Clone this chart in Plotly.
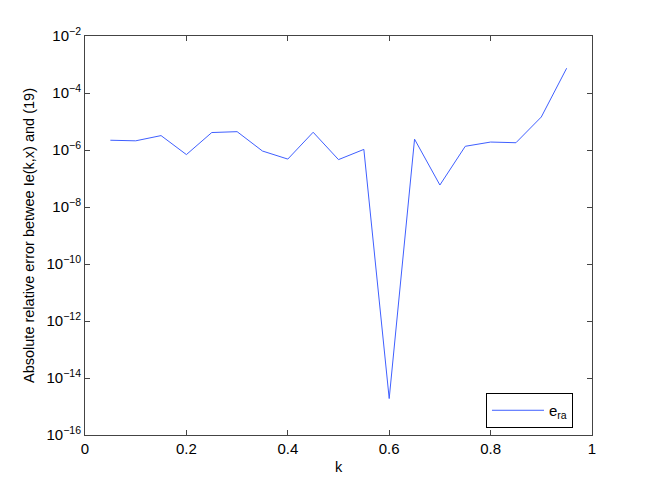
import plotly.graph_objects as go

k = [0.05, 0.10, 0.15, 0.20, 0.25, 0.30, 0.35, 0.40, 0.45, 0.50,
     0.55, 0.60, 0.65, 0.70, 0.75, 0.80, 0.85, 0.90, 0.95]
err = [2.2e-6, 2.1e-6, 3.2e-6, 6.9e-7, 4.1e-6, 4.4e-6, 9.2e-7, 4.8e-7, 4.2e-6, 4.6e-7,
       1.05e-6, 1.9e-15, 2.4e-6, 5.9e-8, 1.35e-6, 1.9e-6, 1.8e-6, 1.44e-5, 7.4e-4]

x_ticks = [0, 0.2, 0.4, 0.6, 0.8, 1]
x_ticktext = ["0", "0.2", "0.4", "0.6", "0.8", "1"]
y_ticks = [1e-16, 1e-14, 1e-12, 1e-10, 1e-8, 1e-6, 1e-4, 1e-2]
y_ticktext = ["10<sup>−16</sup>", "10<sup>−14</sup>", "10<sup>−12</sup>", "10<sup>−10</sup>",
              "10<sup>−8</sup>", "10<sup>−6</sup>", "10<sup>−4</sup>", "10<sup>−2</sup>"]

fig = go.Figure()
fig.add_trace(go.Scatter(x=k, y=err, mode="lines", name="e<sub>ra</sub>",
                         line=dict(color="#3f5fff", width=1)))

axis_common = dict(showline=True, linecolor="#444444", linewidth=1, mirror="allticks",
                   ticks="inside", ticklen=5, tickcolor="#444444", showgrid=False,
                   zeroline=False, automargin=False,
                   tickfont=dict(size=15, color="black"))

fig.update_xaxes(range=[0, 1], tickvals=x_ticks, ticktext=x_ticktext,
                 title=dict(text="k", font=dict(size=14.5, color="black"), standoff=5),
                 **axis_common)
fig.update_yaxes(type="log", range=[-16, -2], tickvals=y_ticks, ticktext=y_ticktext,
                 title=dict(text="Absolute relative error betwee Ie(k,x) and (19)",
                            font=dict(size=14.5, color="black"), standoff=8),
                 **axis_common)

fig.update_layout(
    width=646, height=483,
    margin=dict(l=77, r=62, t=28, b=56),
    paper_bgcolor="white", plot_bgcolor="white",
    font=dict(family="Liberation Sans, Arial, sans-serif", size=15, color="black"),
    showlegend=True,
    legend=dict(x=0.9625, y=0.0175, xanchor="right", yanchor="bottom",
                bordercolor="black", borderwidth=1, bgcolor="white",
                itemwidth=52, font=dict(size=15)),
)

fig.write_html("out.html")
